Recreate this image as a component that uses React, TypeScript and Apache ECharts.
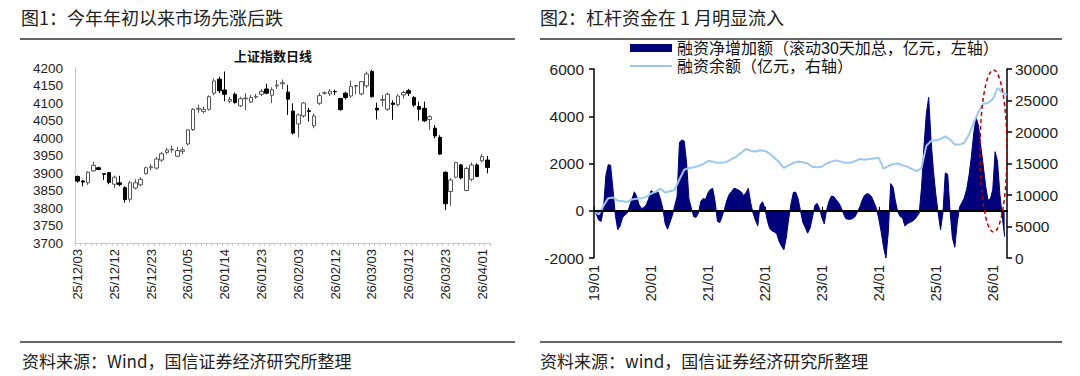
import React, { useEffect, useRef } from 'react';
import * as echarts from 'echarts';

// ---------- Left chart: 上证指数日线 ----------
const candleDates = [
  '25/12/03', '25/12/04', '25/12/05', '25/12/08', '25/12/09', '25/12/10', '25/12/11', '25/12/12',
  '25/12/15', '25/12/16', '25/12/17', '25/12/18', '25/12/19', '25/12/22', '25/12/23', '25/12/24',
  '25/12/25', '25/12/26', '25/12/29', '25/12/30', '25/12/31',
  '26/01/05', '26/01/06', '26/01/07', '26/01/08', '26/01/09', '26/01/12', '26/01/13', '26/01/14',
  '26/01/15', '26/01/16', '26/01/19', '26/01/20', '26/01/21', '26/01/22', '26/01/23', '26/01/26',
  '26/01/27', '26/01/28', '26/01/29', '26/01/30',
  '26/02/02', '26/02/03', '26/02/04', '26/02/05', '26/02/06', '26/02/09', '26/02/10', '26/02/11',
  '26/02/12', '26/02/13', '26/02/24', '26/02/25', '26/02/26', '26/02/27',
  '26/03/02', '26/03/03', '26/03/04', '26/03/05', '26/03/06', '26/03/09', '26/03/10', '26/03/11',
  '26/03/12', '26/03/13', '26/03/16', '26/03/17', '26/03/18', '26/03/19', '26/03/20', '26/03/23',
  '26/03/24', '26/03/25', '26/03/26', '26/03/27', '26/03/30', '26/03/31', '26/04/01', '26/04/02',
];
const opens = [
  3890, 3877, 3872, 3906, 3915, 3898, 3901, 3868, 3872, 3858, 3825, 3857, 3866, 3898, 3915, 3914,
  3937, 3959, 3966, 3948, 3962, 3983, 4024, 4082, 4076, 4082, 4128, 4168, 4137, 4105, 4125, 4092,
  4112, 4103, 4117, 4125, 4140, 4122, 4149, 4155, 4131, 4077, 4040, 4063, 4078, 4035, 4099, 4128,
  4126, 4133, 4113, 4128, 4120, 4148, 4126, 4149, 4190, 4085, 4108, 4082, 4100, 4095, 4123, 4135,
  4116, 4090, 4085, 4053, 4028, 4002, 3902, 3847, 3888, 3923, 3850, 3882, 3923, 3935, 3937,
];
const closes = [
  3877, 3874, 3902, 3922, 3910, 3896, 3873, 3888, 3867, 3824, 3872, 3872, 3882, 3915, 3918, 3940,
  3955, 3966, 3968, 3964, 3966, 4023, 4082, 4085, 4082, 4118, 4163, 4135, 4125, 4110, 4101, 4112,
  4114, 4116, 4119, 4133, 4128, 4138, 4151, 4158, 4111, 4014, 4066, 4100, 4076, 4063, 4121, 4129,
  4134, 4132, 4081, 4116, 4147, 4150, 4161, 4183, 4118, 4080, 4110, 4125, 4096, 4120, 4130, 4128,
  4094, 4082, 4049, 4061, 4006, 3954, 3812, 3880, 3930, 3886, 3913, 3923, 3890, 3947, 3916,
];
const lows = [
  3872, 3862, 3866, 3904, 3908, 3880, 3868, 3857, 3862, 3815, 3817, 3853, 3862, 3896, 3908, 3910,
  3932, 3953, 3958, 3945, 3954, 3978, 4020, 4072, 4070, 4078, 4122, 4128, 4105, 4099, 4098, 4088,
  4080, 4100, 4112, 4120, 4125, 4100, 4140, 4140, 4066, 4010, 4002, 4058, 4047, 4028, 4094, 4124,
  4120, 4123, 4078, 4110, 4115, 4125, 4122, 4143, 4115, 4053, 4090, 4078, 4052, 4090, 4113, 4120,
  4088, 4050, 4046, 4023, 3999, 3952, 3794, 3806, 3885, 3882, 3848, 3876, 3888, 3930, 3899,
];
const highs = [
  3893, 3880, 3905, 3932, 3918, 3900, 3903, 3892, 3892, 3862, 3878, 3882, 3888, 3918, 3925, 3946,
  3960, 3972, 3978, 3975, 3974, 4025, 4085, 4095, 4090, 4122, 4170, 4175, 4190, 4118, 4130, 4118,
  4128, 4123, 4126, 4140, 4155, 4145, 4166, 4167, 4152, 4099, 4070, 4103, 4086, 4070, 4129, 4133,
  4140, 4138, 4115, 4132, 4164, 4152, 4163, 4190, 4195, 4101, 4123, 4130, 4108, 4125, 4135, 4140,
  4120, 4104, 4104, 4065, 4037, 4008, 3905, 3885, 3932, 3926, 3918, 3930, 3928, 3954, 3949,
];

// ---------- Right chart: 融资数据 (from 2019/01) ----------
const yearTicks = [2019, 2020, 2021, 2022, 2023, 2024, 2025, 2026];
// 融资净增加额（滚动30天加总，亿元）, half-monthly readings from 2019/01
const netIncreaseHalfMonthly = [
  0, -150, -400, -450, 100, 1500, 1950, 1930, 900, -200,
  -800, -650, -300, -180, -100, 200, 500, 800, 600, 250,
  100, 130, 250, 500, 850, 780, 740, 800, 500, 100,
  -550, -780, -500, -200, 200, 600, 2900, 3000, 2950, 2050,
  500, 120, -250, -280, -100, 400, 520, 480, 750, 900,
  950, 400, -450, -500, -230, 80, 450, 700, 820, 950,
  920, 870, 800, 650, 750, 950, 350, -100, -400, -650,
  250, 380, 100, -400, -750, -850, -900, -980, -1300, -1500,
  -1650, -1150, -350, 300, 780, 780, 500, 0, -500, -700,
  -950, -750, -300, 220, 310, 100, -300, -550, 30, 400,
  620, 600, 470, 350, 170, -100, -330, -360, -360, -330,
  -250, -50, 170, 450, 650, 720, 700, 580, 350, 100,
  -350, -900, -1550, -2000, -900, 1150, 1000, 400, -50, -250,
  -300, -650, -550, -500, -450, -380, -250, -100, 1000, 2700,
  4100, 4800, 3000, 1700, 700, -100, -800, -100, 1600, 1550,
  0, -1150, -1550, -550, 150, 350, 550, 900, 1500, 2300,
  3300, 3950, 3600, 2700, 1900, 1050, 450, 500, 900, 2500,
  2100, 700, -250, -1100,
];
// 融资余额（亿元）, monthly readings from 2019/01
const balanceMonthly = [
  7500, 6900, 8300, 9500, 9600, 9100, 9000, 8900, 9300, 9400, 9500, 9700,
  10200, 10500, 11000, 10400, 10600, 10800, 12500, 14000, 14300, 14400, 14600, 14900,
  15400, 15300, 15100, 15100, 15300, 15700, 16100, 16700, 17300, 17000, 16900, 17100,
  17000, 16600, 15900, 15200, 14300, 14700, 15100, 15300, 15200, 15000, 14500, 14400,
  14500, 15000, 15300, 15500, 15300, 15100, 15100, 15400, 15700, 15600, 15700, 15800,
  15900, 14200, 14600, 14900, 15000, 14700, 14500, 14100, 13800, 14300, 17800, 18600,
  18700, 18900, 19300, 18800, 18000, 18000, 18300, 19600, 21500, 23200, 24500, 24600,
  25200, 27000, 26300, 25900,
];

const NET_NAME = '融资净增加额（滚动30天加总，亿元，左轴）';
const BAL_NAME = '融资余额（亿元，右轴）';
const NAVY = '#00007a';
const LIGHT = '#9cc8ef';
const FONT = "'Liberation Sans', 'Noto Sans CJK SC', sans-serif";
const CJK = "'Noto Sans CJK SC', sans-serif";

export default function App() {
  const ref = useRef<HTMLDivElement>(null);
  useEffect(() => {
    const chart = echarts.init(ref.current as HTMLDivElement, null, { renderer: 'svg' });
    const netData = netIncreaseHalfMonthly.map((v, i) => [2019 + i / 24, v]);
    const balData = balanceMonthly.map((v, i) => [2019 + i / 12, v]);
    const candleData = opens.map((o, i) => [o, closes[i], lows[i], highs[i]]);
    const yearFmt = (v: number) => `${String(Math.round(v)).slice(2)}/01`;
    const plain = (v: number) => String(v);

    chart.setOption({
      animation: false,
      backgroundColor: '#ffffff',
      textStyle: { fontFamily: FONT },
      grid: [
        { left: 75, top: 68, width: 415, height: 175 },
        { left: 594, top: 69, width: 413, height: 189 },
      ],
      xAxis: [
        {
          gridIndex: 0,
          type: 'category',
          data: candleDates,
          boundaryGap: true,
          axisLine: { lineStyle: { color: '#c8c8c8', width: 1 } },
          axisTick: { show: true, interval: 0, length: 3, lineStyle: { color: '#c8c8c8' } },
          axisLabel: { interval: 6, rotate: 90, fontSize: 13, color: '#222', margin: 6, fontFamily: FONT },
          splitLine: { show: false },
        },
        {
          gridIndex: 1,
          type: 'value',
          min: 2019,
          max: 2026.25,
          axisLine: { show: false, onZero: false },
          axisTick: { show: false },
          splitLine: { show: false },
          axisLabel: {
            customValues: yearTicks,
            formatter: yearFmt,
            rotate: 90,
            fontSize: 14.5,
            color: '#222',
            margin: 7,
            fontFamily: FONT,
          },
        },
        {
          gridIndex: 1,
          type: 'value',
          min: 2019,
          max: 2026.25,
          z: 10,
          axisLine: { show: true, onZero: true, onZeroAxisIndex: 1, lineStyle: { color: '#000', width: 2 } },
          axisTick: { show: true, customValues: yearTicks, length: 4, lineStyle: { color: '#000', width: 1 } },
          axisLabel: { show: false },
          splitLine: { show: false },
        },
      ],
      yAxis: [
        {
          gridIndex: 0,
          type: 'value',
          min: 3700,
          max: 4200,
          interval: 50,
          axisLine: { show: true, lineStyle: { color: '#c8c8c8' } },
          axisTick: { show: false },
          splitLine: { show: false },
          axisLabel: { fontSize: 13.5, color: '#222', margin: 12, fontFamily: FONT, formatter: plain },
        },
        {
          gridIndex: 1,
          type: 'value',
          position: 'left',
          min: -2000,
          max: 6000,
          interval: 2000,
          axisLine: { show: true, lineStyle: { color: '#000', width: 1.5 } },
          axisTick: { show: true, length: 5, lineStyle: { color: '#000', width: 1.5 } },
          splitLine: { show: false },
          axisLabel: { fontSize: 15.5, color: '#222', margin: 10, fontFamily: FONT, formatter: plain },
        },
        {
          gridIndex: 1,
          type: 'value',
          position: 'right',
          min: 0,
          max: 30000,
          interval: 5000,
          axisLine: { show: true, lineStyle: { color: '#000', width: 1.5 } },
          axisTick: { show: true, length: 5, lineStyle: { color: '#000', width: 1.5 } },
          splitLine: { show: false },
          axisLabel: { fontSize: 15.5, color: '#222', margin: 8, fontFamily: FONT, formatter: plain },
        },
      ],
      series: [
        {
          type: 'candlestick',
          xAxisIndex: 0,
          yAxisIndex: 0,
          data: candleData,
          barWidth: 4,
          itemStyle: {
            color: '#ffffff',
            color0: '#000000',
            borderColor: '#555555',
            borderColor0: '#000000',
            borderWidth: 1,
          },
        },
        {
          name: NET_NAME,
          type: 'line',
          xAxisIndex: 1,
          yAxisIndex: 1,
          data: netData,
          symbol: 'none',
          lineStyle: { color: NAVY, width: 1 },
          itemStyle: { color: NAVY },
          areaStyle: { color: NAVY, opacity: 1 },
          z: 2,
        },
        {
          name: BAL_NAME,
          type: 'line',
          xAxisIndex: 1,
          yAxisIndex: 2,
          data: balData,
          symbol: 'none',
          lineStyle: { color: LIGHT, width: 2 },
          itemStyle: { color: LIGHT },
          z: 3,
        },
      ],
      graphic: [
        {
          type: 'text', x: 21, y: 17,
          style: { text: '图1：今年年初以来市场先涨后跌', fontSize: 18, fontFamily: CJK, fill: '#222', verticalAlign: 'middle' },
        },
        {
          type: 'text', x: 540, y: 17,
          style: { text: '图2：杠杆资金在 1 月明显流入', fontSize: 18, fontFamily: CJK, fill: '#222', verticalAlign: 'middle' },
        },
        { type: 'line', shape: { x1: 20, y1: 39, x2: 515, y2: 39 }, style: { stroke: '#666', lineWidth: 2 } },
        { type: 'line', shape: { x1: 540, y1: 39, x2: 1062, y2: 39 }, style: { stroke: '#666', lineWidth: 2 } },
        {
          type: 'text', x: 273, y: 55,
          style: { text: '上证指数日线', fontSize: 13, fontWeight: 'bold', fontFamily: CJK, fill: '#111', align: 'center', verticalAlign: 'middle' },
        },
        // legend of the right chart
        { type: 'rect', shape: { x: 630, y: 44, width: 42, height: 8 }, style: { fill: NAVY } },
        {
          type: 'text', x: 677, y: 48,
          style: { text: NET_NAME, fontSize: 16, fontFamily: FONT, fill: '#111', verticalAlign: 'middle' },
        },
        { type: 'line', shape: { x1: 630, y1: 66, x2: 672, y2: 66 }, style: { stroke: LIGHT, lineWidth: 2 } },
        {
          type: 'text', x: 677, y: 66,
          style: { text: BAL_NAME, fontSize: 16, fontFamily: FONT, fill: '#111', verticalAlign: 'middle' },
        },
        {
          type: 'ellipse', z: 20,
          shape: { cx: 993.5, cy: 151, rx: 13.5, ry: 81 },
          style: { fill: 'transparent', stroke: '#c00000', lineWidth: 1.5, lineDash: [4, 3] },
        },
        { type: 'line', shape: { x1: 20, y1: 342, x2: 515, y2: 342 }, style: { stroke: '#666', lineWidth: 2 } },
        { type: 'line', shape: { x1: 540, y1: 342, x2: 1062, y2: 342 }, style: { stroke: '#666', lineWidth: 2 } },
        {
          type: 'text', x: 22, y: 360,
          style: { text: '资料来源：Wind，国信证券经济研究所整理', fontSize: 17, fontFamily: CJK, fill: '#222', verticalAlign: 'middle' },
        },
        {
          type: 'text', x: 540, y: 360,
          style: { text: '资料来源：wind，国信证券经济研究所整理', fontSize: 17, fontFamily: CJK, fill: '#222', verticalAlign: 'middle' },
        },
      ],
    });
    return () => chart.dispose();
  }, []);
  return (
    <div
      ref={ref}
      style={{ position: 'absolute', left: 0, top: 0, width: 1080, height: 376, background: '#fff' }}
    />
  );
}
